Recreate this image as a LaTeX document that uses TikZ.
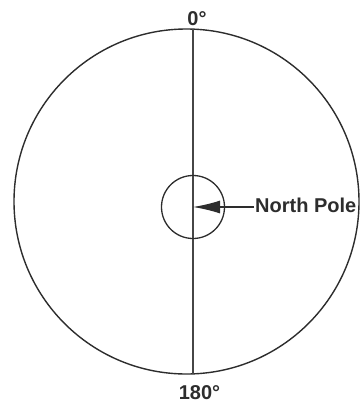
\documentclass[tikz,border=0pt]{standalone}
\usepackage{fontspec}
\setmainfont{Liberation Sans}
\usepackage{tikz}
\usetikzlibrary{arrows.meta, positioning, calc}
\usepackage{xcolor}
\definecolor{rim}{RGB}{45,45,45}
\definecolor{meridian}{RGB}{70,70,70}

\begin{document}
\begin{tikzpicture}[x=1pt, y=-1pt,
    lbl/.style={font=\fontsize{20}{24}\selectfont\bfseries, text=rim, inner sep=1pt}]
  \useasboundingbox (0,0) rectangle (360,402);
  % outer circle and meridian
  \node[circle, draw=rim, line width=1.4pt, minimum size=345pt, inner sep=0pt] (globe) at (186.5,201.5) {};
  \coordinate (ntop) at (193,29.2);
  \coordinate (sbot) at (193,373.8);
  \draw[meridian, line width=1.3pt] (ntop) -- (sbot);
  \node[lbl, anchor=base] (zero) at (197,25) {0°};
  \node[lbl, anchor=base] (oneeighty) at (199.5,399) {180°};
  % pole
  \node[circle, draw=rim, line width=1.3pt, minimum size=63pt, inner sep=0pt] (pole) at (193,207) {};
  \node[lbl, anchor=west, fill=white] (np) at (254,205) {North Pole};
  \draw[rim, line width=1.3pt, -{Latex[length=27pt, width=13pt]}] (np.west |- pole.center) -- (pole.center);
\end{tikzpicture}
\end{document}
